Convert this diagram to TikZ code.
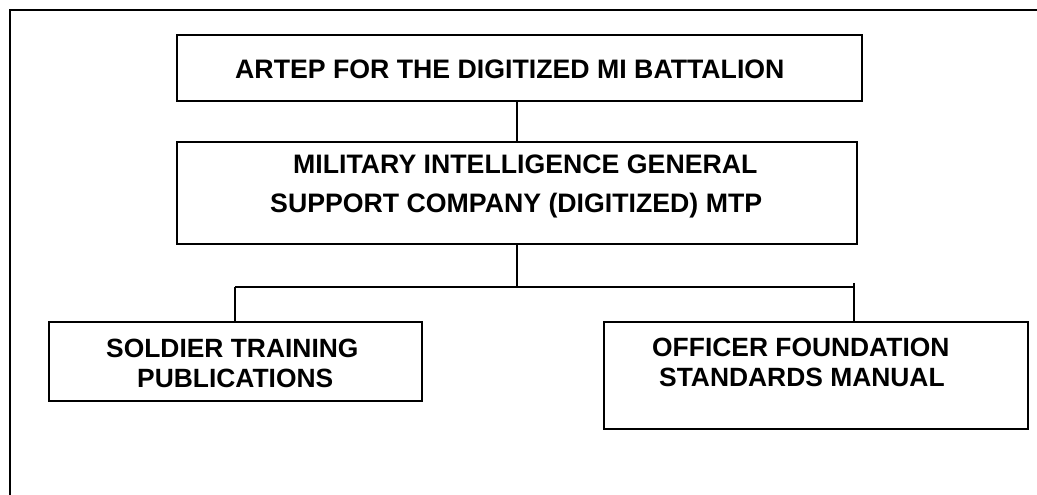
\documentclass[tikz,border=0pt]{standalone}
\usepackage{fontspec}
\setmainfont{Liberation Sans}
\begin{document}
\begin{tikzpicture}[x=1pt,y=1pt,
  box/.style={draw=black, line width=2pt, inner sep=0pt},
  lbl/.style={anchor=base west, inner sep=0pt, font=\bfseries\fontsize{26.7}{30}\selectfont},
  lbllow/.style={anchor=base west, inner sep=0pt, font=\bfseries\fontsize{26.4}{30}\selectfont},
  conn/.style={draw=black, line width=2pt}]
\useasboundingbox (0,0) rectangle (1037,495);
% outer frame (open at right and bottom)
\coordinate (fbot) at (9.5,0);
\coordinate (fcorner) at (9.5,485);
\coordinate (fright) at (1037,485);
\draw[line width=2pt] (fbot) -- (fcorner) -- (fright);
% boxes
\node[box, minimum width=685pt, minimum height=66pt] (artep) at (519.5,427) {};
\node[box, minimum width=680pt, minimum height=102pt] (mtp) at (517,302) {};
\node[box, minimum width=373pt, minimum height=79pt] (stp) at (235.5,133.5) {};
\node[box, minimum width=424pt, minimum height=107pt] (ofsm) at (816,119.5) {};
% texts
\node[lbl] (t1) at (235,416) {ARTEP FOR THE DIGITIZED MI BATTALION};
\node[lbl] (t2) at (293,321) {MILITARY INTELLIGENCE GENERAL};
\node[lbl] (t3) at (270,282) {SUPPORT COMPANY (DIGITIZED) MTP};
\node[lbllow] (t4) at (106,137) {SOLDIER TRAINING};
\node[lbllow] (t5) at (137,107) {PUBLICATIONS};
\node[lbllow] (t6) at (652,138) {OFFICER FOUNDATION};
\node[lbllow] (t7) at (659,108) {STANDARDS MANUAL};
% connectors
\coordinate (busL) at (235,208);
\coordinate (busR) at (854,208);
\coordinate (busRtop) at (854,212);
\draw[conn] (mtp.north |- artep.south) -- (mtp.north);
\draw[conn] (mtp.south) -- (mtp.south |- busL);
\draw[conn] (busL) -- (busR);
\draw[conn] (busL) -- (busL |- stp.north);
\draw[conn] (busRtop) -- (busRtop |- ofsm.north);
\end{tikzpicture}
\end{document}
